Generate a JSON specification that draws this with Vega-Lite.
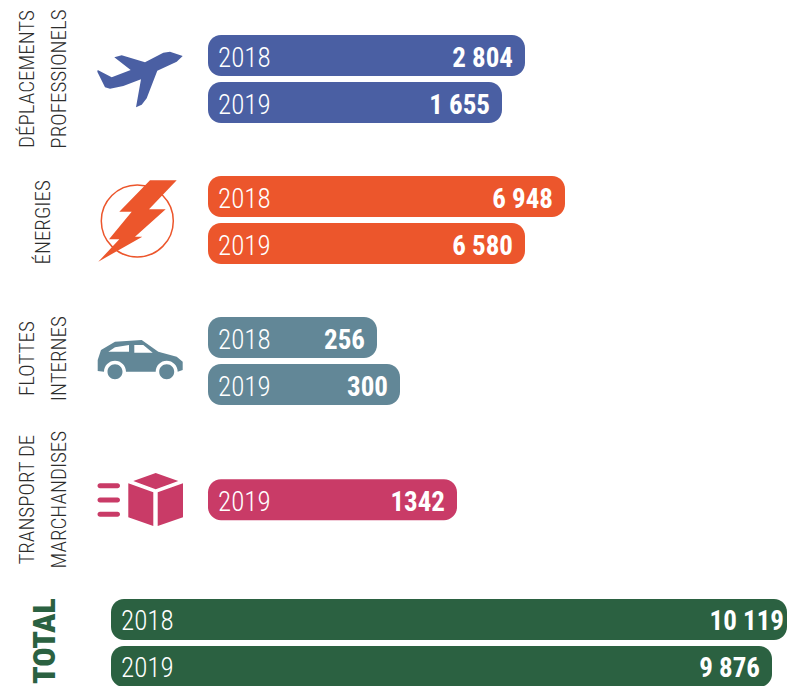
{"$schema":"https://vega.github.io/schema/vega-lite/v6.json","width":787,"height":686,"autosize":"none","padding":0,"background":"white","config":{"view":{"stroke":null},"font":"Roboto Condensed, Lato"},"datasets":{"bars":[{"category":"Déplacements professionels","year":"2018","rank":0,"start":0,"end":317,"label":"2 804","value":2804},{"category":"Déplacements professionels","year":"2019","rank":1,"start":0,"end":294,"label":"1 655","value":1655},{"category":"Énergies","year":"2018","rank":3,"start":0,"end":357,"label":"6 948","value":6948},{"category":"Énergies","year":"2019","rank":4,"start":0,"end":317,"label":"6 580","value":6580},{"category":"Flottes internes","year":"2018","rank":6,"start":0,"end":169,"label":"256","value":256},{"category":"Flottes internes","year":"2019","rank":7,"start":0,"end":192,"label":"300","value":300},{"category":"Transport de marchandises","year":"2019","rank":9.45,"start":0,"end":249,"label":"1342","value":1342},{"category":"Total","year":"2018","rank":12,"start":-97,"end":579,"label":"10 119","value":10119},{"category":"Total","year":"2019","rank":13,"start":-97,"end":564,"label":"9 876","value":9876}],"heads":[{"key":"a","lines":"DÉPLACEMENTS\nPROFESSIONELS","rank":0.5},{"key":"b","lines":"ÉNERGIES","rank":3.55},{"key":"c","lines":"FLOTTES\nINTERNES","rank":6.45},{"key":"d","lines":"TRANSPORT DE\nMARCHANDISES","rank":9.45},{"key":"e","lines":"TOTAL","rank":12.46}]},"layer":[{"data":{"name":"bars"},"mark":{"type":"bar","orient":"horizontal","height":41,"cornerRadius":13},"encoding":{"x":{"field":"start","type":"quantitative","scale":{"domain":[-208,579],"range":[0,787],"nice":false,"zero":false,"padding":0},"axis":null},"x2":{"field":"end"},"y":{"field":"rank","type":"quantitative","scale":{"domain":[-1.1809,13.4149],"range":[0,686],"nice":false,"zero":false,"padding":0},"axis":null},"color":{"field":"category","type":"nominal","legend":null,"scale":{"domain":["Déplacements professionels","Énergies","Flottes internes","Transport de marchandises","Total"],"range":["#4A5FA3","#EC562C","#628797","#C93B67","#2B6141"]}}}},{"data":{"name":"bars"},"mark":{"type":"text","align":"left","baseline":"middle","dx":10,"dy":3,"fontSize":27,"fontWeight":300,"color":"#ffffff"},"encoding":{"x":{"field":"start","type":"quantitative"},"y":{"field":"rank","type":"quantitative"},"text":{"field":"year"}}},{"data":{"name":"bars"},"transform":[{"filter":"datum.end<575"}],"mark":{"type":"text","align":"right","baseline":"middle","dx":-12,"dy":3,"fontSize":27,"fontWeight":"bold","color":"#ffffff"},"encoding":{"x":{"field":"end","type":"quantitative"},"y":{"field":"rank","type":"quantitative"},"text":{"field":"label"}}},{"data":{"name":"bars"},"transform":[{"filter":"datum.end>=575"}],"mark":{"type":"text","align":"right","baseline":"middle","dx":-3,"dy":3,"fontSize":27,"fontWeight":"bold","color":"#ffffff"},"encoding":{"x":{"field":"end","type":"quantitative"},"y":{"field":"rank","type":"quantitative"},"text":{"field":"label"}}},{"data":{"name":"heads"},"transform":[{"filter":"datum.key=='a'||datum.key=='c'||datum.key=='d'"}],"mark":{"type":"text","angle":270,"align":"center","baseline":"middle","lineBreak":"\n","lineHeight":32,"fontSize":21,"fontWeight":300,"color":"#2c2c2c"},"encoding":{"x":{"datum":-180},"y":{"field":"rank","type":"quantitative"},"text":{"field":"lines"}}},{"data":{"name":"heads"},"transform":[{"filter":"datum.key=='b'"}],"mark":{"type":"text","angle":270,"align":"center","baseline":"middle","fontSize":21,"fontWeight":300,"color":"#2c2c2c"},"encoding":{"x":{"datum":-164},"y":{"field":"rank","type":"quantitative"},"text":{"field":"lines"}}},{"data":{"name":"heads"},"transform":[{"filter":"datum.key=='e'"}],"mark":{"type":"text","angle":270,"align":"center","baseline":"middle","fontSize":32,"fontWeight":900,"color":"#2B6141"},"encoding":{"x":{"datum":-163},"y":{"field":"rank","type":"quantitative"},"text":{"field":"lines"}}},{"data":{"name":"heads"},"transform":[{"filter":"datum.key=='a'"}],"mark":{"type":"point","filled":true,"opacity":1,"size":4,"color":"#4A5FA3","shape":"M42.7 -23L30 -27.3L23.3 -26.3L5 -16.7L-18.3 -23.7L-25.7 -21.7L-9.3 -9L-28.3 -1.7L-42.3 -9L-42.7 -7.3L-35 8.3L-30 9.7L-16.7 7L1 0.3L-4 28.3L1.7 25.7L6.7 19.3L17.3 -8.3L36.7 -17.3Z"},"encoding":{"x":{"datum":-68},"y":{"field":"rank","type":"quantitative"}}},{"data":{"name":"heads"},"transform":[{"filter":"datum.key=='b'"}],"mark":{"type":"point","filled":false,"opacity":1,"size":5184,"color":"#EC562C","strokeWidth":1.5,"shape":"circle"},"encoding":{"x":{"datum":-70.7},"y":{"datum":3.52}}},{"data":{"name":"heads"},"transform":[{"filter":"datum.key=='b'"}],"mark":{"type":"point","filled":true,"opacity":1,"size":4,"color":"#EC562C","shape":"M10 -39.7L36.7 -39.7L9 -10.7L25.7 -10.7L-5 16.7L2.3 16.7L-41.7 41.7L-20.7 19.3L-31 19.3L-8.3 -8.3L-20.7 -8.3Z"},"encoding":{"x":{"datum":-68},"y":{"datum":3.5}}},{"data":{"name":"heads"},"transform":[{"filter":"datum.key=='c'"}],"mark":{"type":"point","filled":true,"opacity":1,"size":4,"color":"#628797","shape":"M-42.3 10L-42.3 -1L-39 -11L-25 -19.3L1.7 -21L18.3 -9.3L36.7 -4.3L42.7 0.7L42.7 9L37.7 10.7A11 11 0 0 0 15.7 10.7L-14 10.7A11 11 0 0 0 -36 10.7ZM-31.7 -9.3L-11 -9.3L-11 -16L-25 -13.7ZM-5.7 -8.3L12.7 -8.3L3.3 -16L-5.7 -16ZM19.2 10.7a7.5 7.5 0 1 0 15 0a7.5 7.5 0 1 0 -15 0ZM-32.5 10.7a7.5 7.5 0 1 0 15 0a7.5 7.5 0 1 0 -15 0Z"},"encoding":{"x":{"datum":-68},"y":{"datum":6.5}}},{"data":{"name":"heads"},"transform":[{"filter":"datum.key=='d'"}],"mark":{"type":"point","filled":true,"opacity":1,"size":4,"color":"#C93B67","shape":"M15.7 -26.65L38.3 -18.65L15.7 -10.3L-6.7 -18.65ZM-11.7 -16.3L13.3 -7.3L13.3 26.35L-11.7 17.7ZM17.7 -7.3L43 -16.3L43 17.7L17.7 26.35ZM-40 -16.5H-22.5a2.5 2.5 0 0 1 0 5H-40a2.5 2.5 0 0 1 0 -5ZM-40 -2.2H-22.5a2.5 2.5 0 0 1 0 5H-40a2.5 2.5 0 0 1 0 -5ZM-40 12.2H-22.5a2.5 2.5 0 0 1 0 5H-40a2.5 2.5 0 0 1 0 -5Z"},"encoding":{"x":{"datum":-68},"y":{"datum":9.45}}}]}
